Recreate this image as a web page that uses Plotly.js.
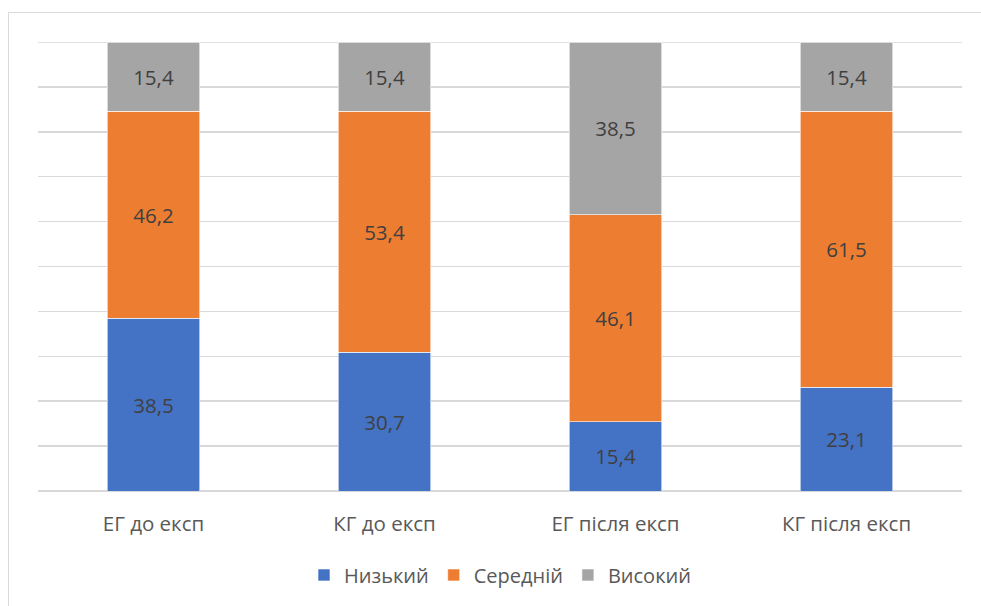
<!DOCTYPE html>
<html>
<head>
<meta charset="utf-8">
<script src="https://cdn.plot.ly/plotly-3.0.1.min.js"></script>
<style>
  html, body { margin: 0; padding: 0; background: #fff; overflow: hidden; }
  #wrap { position: relative; width: 981px; height: 606px; }
  #frame { position: absolute; left: 8px; top: 12px; width: 1200px; height: 800px; border: 1px solid #d9d9d9; box-sizing: border-box; pointer-events: none; }
  #chart { position: absolute; left: 0; top: 0; width: 981px; height: 606px; }
</style>
</head>
<body>
<div id="wrap">
  <div id="frame"></div>
  <div id="chart"></div>
</div>
<script>
const categories = ["ЕГ до експ", "КГ до експ", "ЕГ після експ", "КГ після експ"];
const seriesNames = ["Низький", "Середній", "Високий"];
const lowValues = [38.5, 30.7, 15.4, 23.1];
const midValues = [46.2, 53.4, 46.1, 61.5];
const highValues = [15.4, 15.4, 38.5, 15.4];
const colors = ["#4472c4", "#ed7d31", "#a5a5a5"];

const fmt = v => v.toFixed(1).replace('.', ',');
const FONT = "'Open Sans', sans-serif";

const traces = [lowValues, midValues, highValues].map((vals, i) => ({
  type: 'bar',
  name: seriesNames[i],
  x: categories,
  y: vals,
  text: vals.map(fmt),
  texttemplate: '%{text}',
  textposition: 'inside',
  insidetextanchor: 'middle',
  textangle: 0,
  constraintext: 'none',
  textfont: { family: FONT, size: 20.5, color: '#404040' },
  marker: { color: colors[i], line: { color: '#ffffff', width: 0.6 } },
  hoverinfo: 'skip'
}));

const layout = {
  width: 981,
  height: 606,
  margin: { l: 38, r: 19, t: 42, b: 115 },
  paper_bgcolor: 'rgba(0,0,0,0)',
  plot_bgcolor: 'rgba(0,0,0,0)',
  barmode: 'stack',
  barnorm: 'percent',
  bargap: 0.6,
  showlegend: true,
  legend: {
    orientation: 'h',
    x: 0.5, xanchor: 'center',
    y: -0.187, yanchor: 'middle',
    font: { family: FONT, size: 20, color: '#595959' },
    traceorder: 'normal',
    itemwidth: 30
  },
  xaxis: {
    type: 'category',
    showgrid: false,
    showline: false,
    zeroline: false,
    ticks: '',
    ticklabelstandoff: 18,
    tickfont: { family: FONT, size: 20.5, color: '#595959' },
    fixedrange: true
  },
  yaxis: {
    range: [0, 100],
    dtick: 10,
    showticklabels: false,
    showgrid: true,
    gridcolor: '#d9d9d9',
    gridwidth: 1.5,
    zeroline: true,
    zerolinecolor: '#d9d9d9',
    zerolinewidth: 1.5,
    showline: false,
    ticks: '',
    fixedrange: true
  },
  shapes: [{
    type: 'line', xref: 'paper', yref: 'y',
    x0: 0, x1: 1, y0: 100, y1: 100,
    layer: 'below',
    line: { color: '#d9d9d9', width: 1.5 }
  }],
  font: { family: FONT }
};

Plotly.newPlot('chart', traces, layout, { displayModeBar: false, staticPlot: true });
</script>
</body>
</html>
